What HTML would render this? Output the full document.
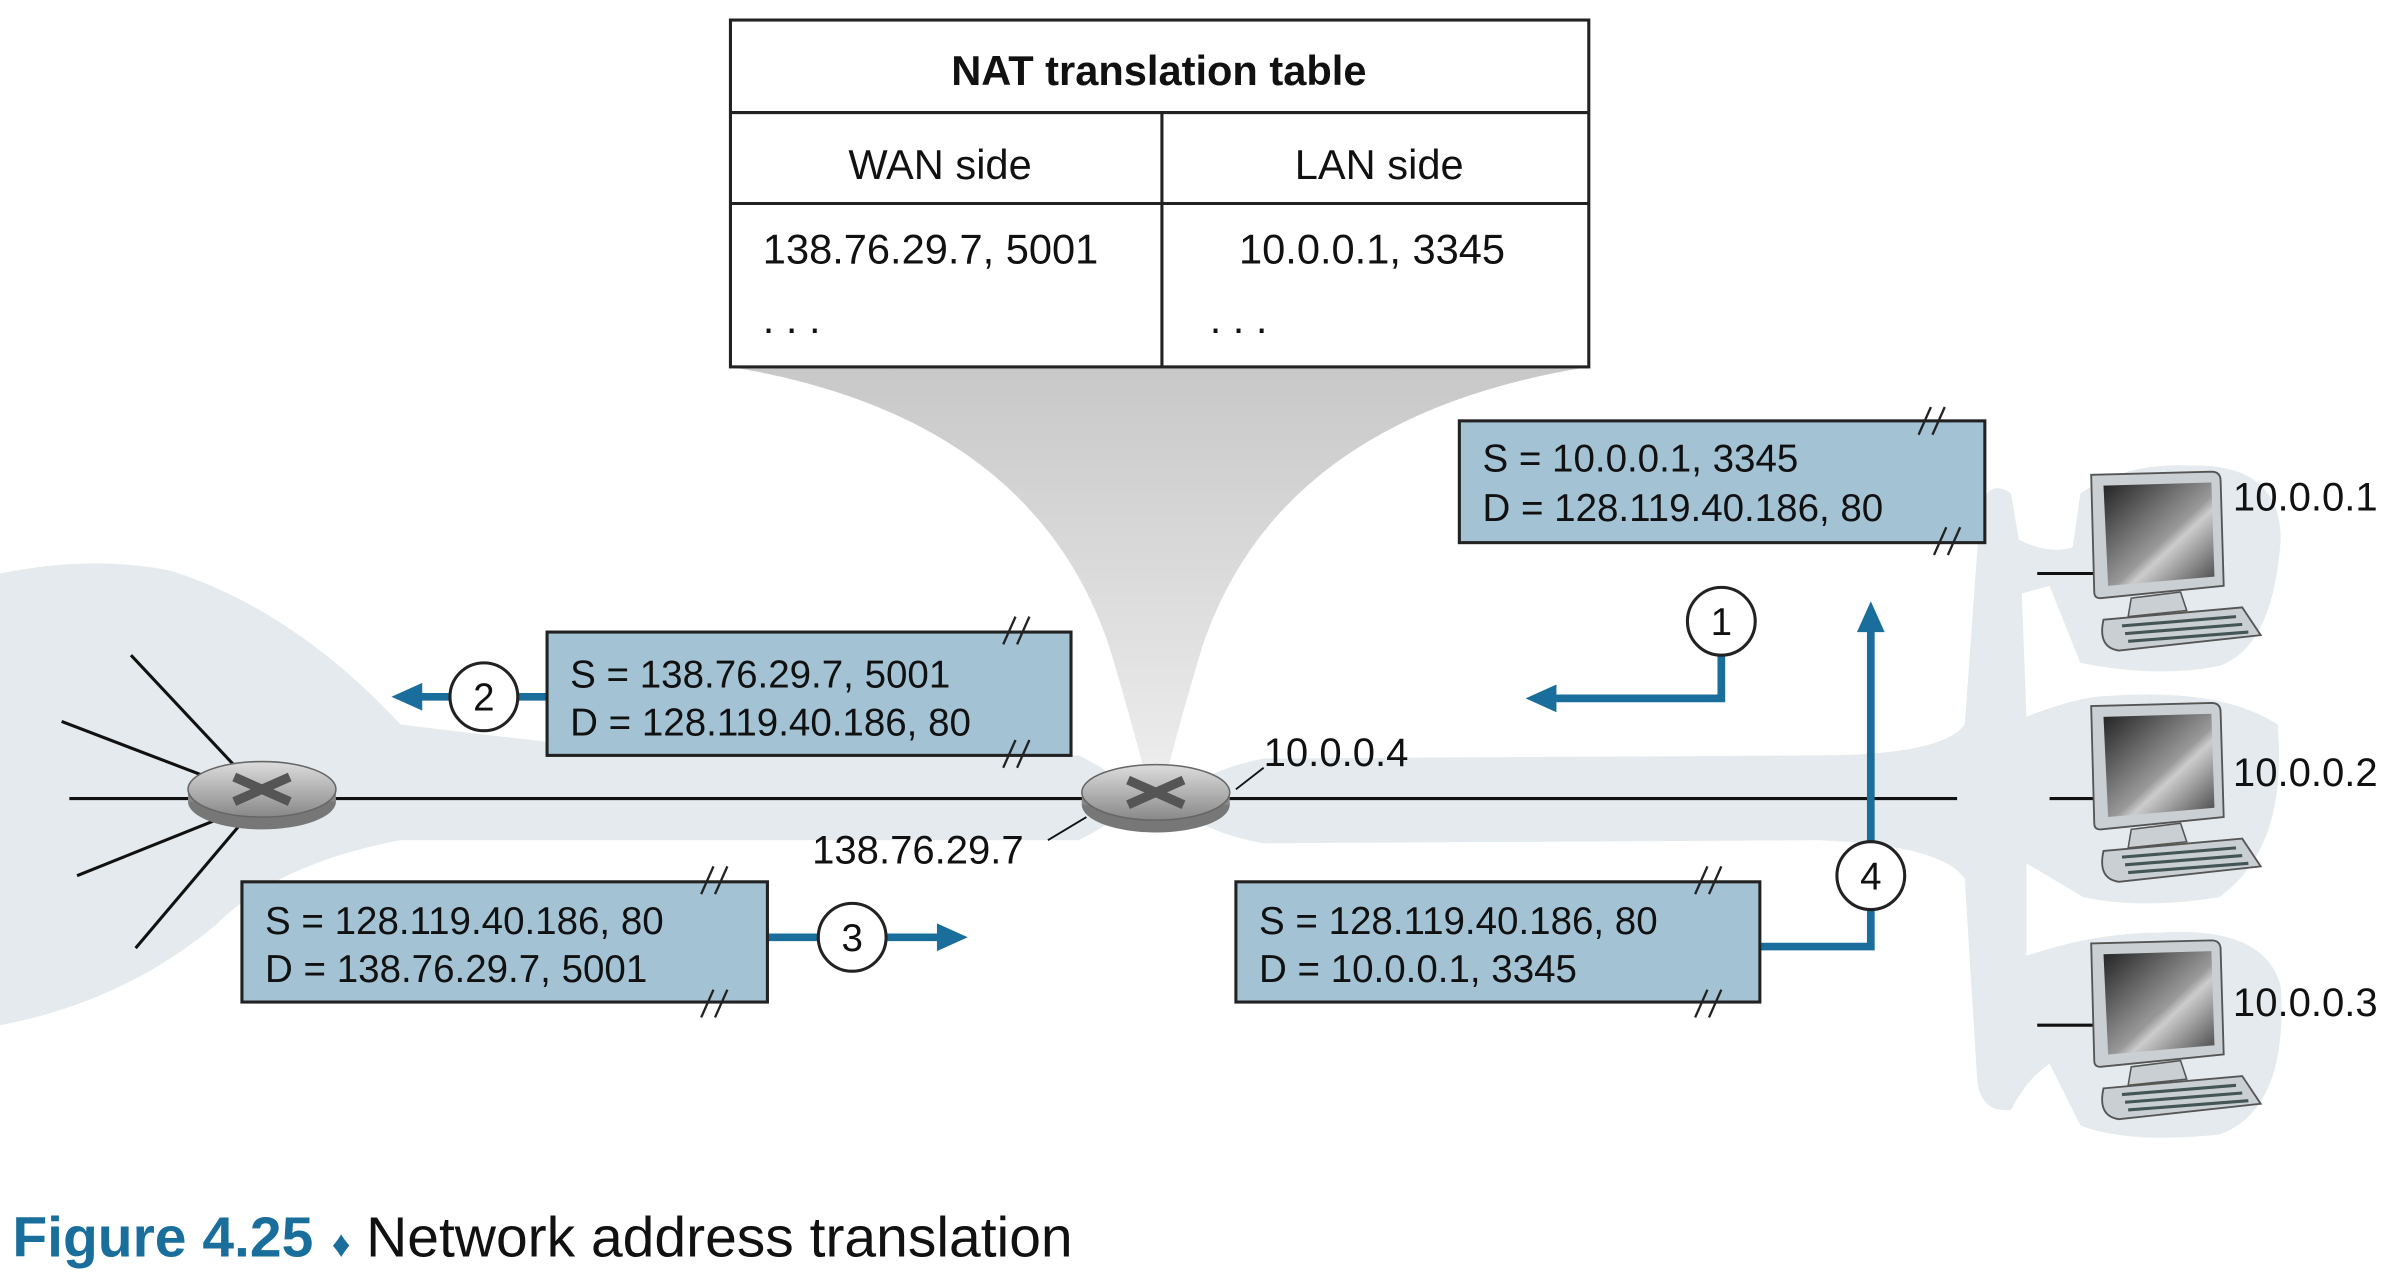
<!DOCTYPE html>
<html><head><meta charset="utf-8"><style>
html,body{margin:0;padding:0;background:#fff}
svg{display:block}
text{font-family:"Liberation Sans",sans-serif}
</style></head><body>
<svg width="2404" height="1278" viewBox="0 0 1560 829" preserveAspectRatio="none">
<defs>
<linearGradient id="scr" x1="0" y1="0" x2="1" y2="1"><stop offset="0" stop-color="#222"/><stop offset="0.55" stop-color="#999"/><stop offset="0.62" stop-color="#ccc"/><stop offset="1" stop-color="#444"/></linearGradient>
<linearGradient id="rt" x1="0" y1="0" x2="0" y2="1"><stop offset="0" stop-color="#ddd"/><stop offset="1" stop-color="#888"/></linearGradient>
<linearGradient id="fun" x1="0" y1="0" x2="0" y2="1"><stop offset="0" stop-color="#c8c8c8"/><stop offset="1" stop-color="#eeeeee"/></linearGradient>
<g id="comp">
<path d="M2 0 L80 -2 Q86 -2 86 4 L88 72 L8 80 Q4 80 4 76 Z" fill="#c9cfd3" stroke="#555" stroke-width="1.2"/>
<path d="M10 7 L80 5 L82 66 L13 72 Z" fill="url(#scr)"/>
<path d="M28 80 L60 76 L64 88 L26 92 Z" fill="#c9cfd3" stroke="#555"/>
<path d="M10 94 L100 86 L112 104 L20 114 Q6 112 10 94 Z" fill="#c9cfd3" stroke="#555" stroke-width="1.2"/>
<path d="M22 98 L96 92 M24 103 L100 97 M26 108 L104 102" stroke="#455" stroke-width="2"/>
</g>
<g id="router">
<ellipse cx="0" cy="8" rx="48" ry="18" fill="#777"/>
<rect x="-48" y="0" width="96" height="8" fill="#888"/>
<ellipse cx="0" cy="0" rx="48" ry="18" fill="url(#rt)" stroke="#666"/>
<path d="M-18 -8 L18 8 M-18 8 L18 -8" stroke="#555" stroke-width="6"/>
</g>
</defs>
<path d="M0 372 Q60 360 110 370 Q190 395 260 470 Q340 480 420 488 L700 490 Q730 505 740 520 Q720 535 700 545 L260 545 Q180 560 140 600 Q80 650 0 665 Z" fill="#e4eaed"/>
<path d="M760 520 Q780 500 820 492 L1180 490 Q1260 490 1275 470 L1285 330 Q1290 310 1305 320 L1310 350 Q1330 360 1345 355 L1350 320 Q1380 300 1420 302 Q1480 300 1480 350 Q1475 420 1440 432 Q1400 440 1350 430 L1330 380 L1312 385 L1315 465 Q1340 455 1360 452 Q1440 445 1478 470 Q1485 550 1440 582 Q1390 590 1352 582 L1315 560 L1315 620 Q1360 605 1400 605 Q1470 600 1480 640 Q1485 720 1440 736 Q1380 742 1350 730 L1330 690 Q1315 700 1305 720 Q1285 722 1283 700 L1275 570 Q1260 548 1180 545 L820 547 Q780 540 760 520 Z" fill="#e4eaed"/>
<path d="M474 238 L1031 238 Q830 270 780 420 Q765 470 755 510 L745 510 Q735 470 720 420 Q670 270 474 238 Z" fill="url(#fun)"/>
<g>
<rect x="474" y="13" width="557" height="225" fill="#fff" stroke="#222" stroke-width="2"/>
<line x1="474" y1="73" x2="1031" y2="73" stroke="#222" stroke-width="2"/>
<line x1="474" y1="132" x2="1031" y2="132" stroke="#222" stroke-width="2"/>
<line x1="754" y1="73" x2="754" y2="238" stroke="#222" stroke-width="2"/>
<text x="752" y="55" font-size="27" font-weight="bold" text-anchor="middle" fill="#111">NAT translation table</text>
<text x="610" y="116" font-size="27" text-anchor="middle" fill="#111">WAN side</text>
<text x="895" y="116" font-size="27" text-anchor="middle" fill="#111">LAN side</text>
<text x="495" y="171" font-size="27" fill="#111">138.76.29.7, 5001</text>
<text x="804" y="171" font-size="27" fill="#111">10.0.0.1, 3345</text>
<text x="495" y="216" font-size="27" fill="#111">. . .</text>
<text x="785" y="216" font-size="27" fill="#111">. . .</text>
</g>
<line x1="45" y1="518" x2="1270" y2="518" stroke="#111" stroke-width="2"/>
<g stroke="#111" stroke-width="2">
<line x1="85" y1="425" x2="160" y2="505"/><line x1="40" y1="468" x2="150" y2="510"/>
<line x1="50" y1="568" x2="150" y2="528"/><line x1="88" y1="615" x2="160" y2="530"/>
<line x1="1322" y1="372" x2="1362" y2="372"/><line x1="1330" y1="518" x2="1362" y2="518"/><line x1="1322" y1="665" x2="1362" y2="665"/>
<line x1="802" y1="512" x2="820" y2="498" stroke-width="1.2"/><line x1="680" y1="545" x2="705" y2="530" stroke-width="1.2"/>
</g>
<use href="#router" x="170" y="512"/>
<use href="#router" x="750" y="514"/>
<text x="820" y="497" font-size="26" fill="#111">10.0.0.4</text>
<text x="527" y="560" font-size="26" fill="#111">138.76.29.7</text>
<use href="#comp" x="1355" y="308"/>
<use href="#comp" x="1355" y="458"/>
<use href="#comp" x="1355" y="612"/>
<text x="1449" y="331" font-size="26" fill="#111">10.0.0.1</text>
<text x="1449" y="510" font-size="26" fill="#111">10.0.0.2</text>
<text x="1449" y="659" font-size="26" fill="#111">10.0.0.3</text>
<g stroke="#1a6e9c" stroke-width="5" fill="none">
<path d="M1117 425 L1117 453 L1005 453"/>
<path d="M1142 614 L1214 614 L1214 405"/>
<path d="M355 452 L270 452"/>
<path d="M498 608 L612 608"/>
</g>
<g fill="#1a6e9c">
<path d="M990 453 L1010 444 L1010 462 Z"/>
<path d="M1214 390 L1205 410 L1223 410 Z"/>
<path d="M254 452 L274 443 L274 461 Z"/>
<path d="M628 608 L608 599 L608 617 Z"/>
</g>
<g font-size="25" fill="#111">
<g><rect x="947" y="273" width="341" height="79" fill="#a3c2d4" stroke="#222" stroke-width="2"/><text x="962" y="306">S = 10.0.0.1, 3345</text><text x="962" y="338">D = 128.119.40.186, 80</text></g>
<g><rect x="355" y="410" width="340" height="80" fill="#a3c2d4" stroke="#222" stroke-width="2"/><text x="370" y="446">S = 138.76.29.7, 5001</text><text x="370" y="477">D = 128.119.40.186, 80</text></g>
<g><rect x="157" y="572" width="341" height="78" fill="#a3c2d4" stroke="#222" stroke-width="2"/><text x="172" y="606">S = 128.119.40.186, 80</text><text x="172" y="637">D = 138.76.29.7, 5001</text></g>
<g><rect x="802" y="572" width="340" height="78" fill="#a3c2d4" stroke="#222" stroke-width="2"/><text x="817" y="606">S = 128.119.40.186, 80</text><text x="817" y="637">D = 10.0.0.1, 3345</text></g>
</g>
<g stroke="#222" stroke-width="1.5">
<path d="M1245 282 L1253 264 M1254 282 L1262 264 M1255 360 L1263 342 M1264 360 L1272 342"/>
<path d="M651 418 L659 400 M660 418 L668 400 M651 498 L659 480 M660 498 L668 480"/>
<path d="M455 580 L463 562 M464 580 L472 562 M455 660 L463 642 M464 660 L472 642"/>
<path d="M1100 580 L1108 562 M1109 580 L1117 562 M1100 660 L1108 642 M1109 660 L1117 642"/>
</g>
<g font-size="25" text-anchor="middle" fill="#111">
<g><circle cx="1117" cy="403" r="22" fill="#fff" stroke="#222" stroke-width="2"/><text x="1117" y="412">1</text></g>
<g><circle cx="314" cy="452" r="22" fill="#fff" stroke="#222" stroke-width="2"/><text x="314" y="461">2</text></g>
<g><circle cx="553" cy="608" r="22" fill="#fff" stroke="#222" stroke-width="2"/><text x="553" y="617">3</text></g>
<g><circle cx="1214" cy="568" r="22" fill="#fff" stroke="#222" stroke-width="2"/><text x="1214" y="577">4</text></g>
</g>
<text x="8" y="815" font-size="37" fill="#111"><tspan font-weight="bold" fill="#1a6e9c">Figure 4.25</tspan><tspan fill="#1a6e9c" font-size="24" dx="12">♦</tspan><tspan dx="10">Network address translation</tspan></text>
</svg>
</body></html>
